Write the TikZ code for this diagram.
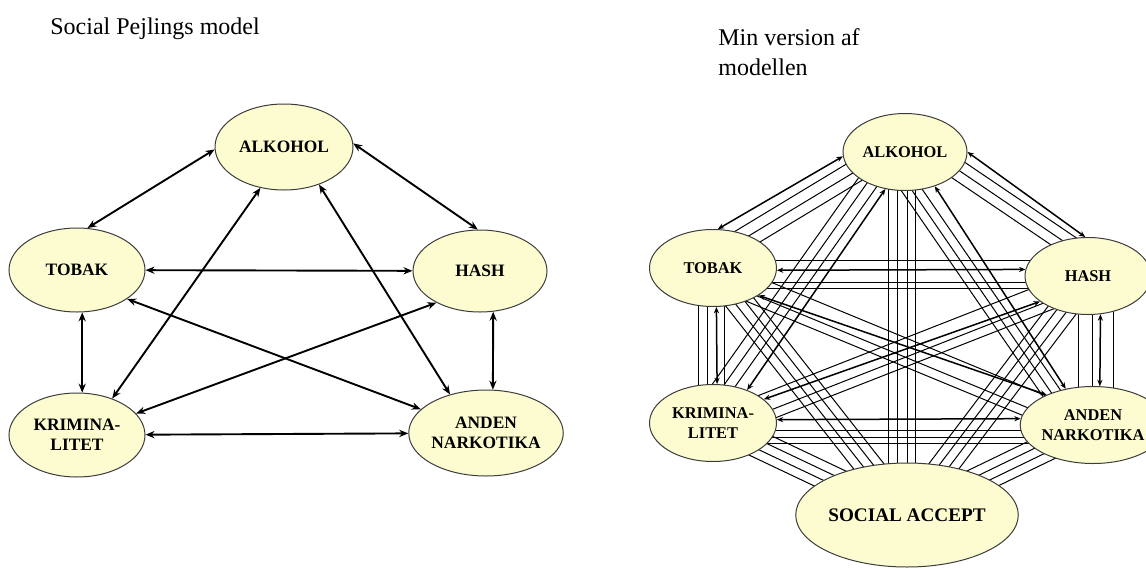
\documentclass[tikz,border=0pt]{standalone}
\usepackage{fontspec}
\setmainfont{Liberation Serif}
\usetikzlibrary{shapes.geometric,arrows.meta,calc}
\pgfdeclarelayer{bg}
\pgfsetlayers{bg,main}
\definecolor{nodefill}{RGB}{252,252,208}
\definecolor{nodeedge}{RGB}{60,60,60}
\tikzset{
  bub/.style={ellipse, draw=nodeedge, line width=0.5pt, fill=nodefill, inner sep=0pt, align=center},
  lfont/.style={font=\bfseries\fontsize{8.7}{10}\selectfont},
  rfont/.style={font=\bfseries\fontsize{8.2}{10}\selectfont},
  larr/.style={line width=0.95pt, {Stealth[length=4.5pt,width=3.6pt]}-{Stealth[length=4.5pt,width=3.6pt]}},
  rarr/.style={line width=0.75pt, {Stealth[length=3.2pt,width=2.6pt]}-{Stealth[length=3.2pt,width=2.6pt]}},
  pline/.style={line width=0.5pt},
  titletext/.style={anchor=base west, inner sep=0pt, font=\fontsize{12}{15}\selectfont}
}
\begin{document}
\begin{tikzpicture}[x=0.5pt,y=-0.5pt]
\useasboundingbox (0,0) rectangle (1146,568);

% titles
\node[titletext] (t1) at (50,34) {Social Pejlings model};
\node[titletext] (t2) at (718,45) {Min version af};
\node[titletext] (t3) at (718,75) {modellen};

% ---------- left diagram ----------
\node[bub, lfont, minimum width=69pt, minimum height=43pt] (LA) at (284,147) {ALKOHOL};
\node[bub, lfont, minimum width=68pt, minimum height=42pt] (LT) at (77,270) {TOBAK};
\node[bub, lfont, minimum width=67pt, minimum height=41pt] (LH) at (480,271) {HASH};
\node[bub, lfont, minimum width=68pt, minimum height=42pt] (LK) at (77,435) {KRIMINA-\\LITET};
\node[bub, lfont, minimum width=66pt, minimum height=43pt] (LN) at (486,433) {ANDEN\\NARKOTIKA};

\draw[larr] (LA.182) -- (LT.76);
\draw[larr] (LA.3) -- (LH.93);
\draw[larr] (LT) -- (LH);
\draw[larr] (LT.-83) -- (LK.83);
\draw[larr] (LH.-72) -- (LN.81);
\draw[larr] (LK) -- (LN);
\draw[larr] (LA.240) -- (LK.46);
\draw[larr] (LA.-47) -- (LN.133);
\draw[larr] (LT.-30) -- (LN.160);
\draw[larr] (LH.216) -- (LK.20);

% ---------- right diagram ----------
\node[bub, rfont, minimum width=62pt, minimum height=38.5pt] (RA) at (905,152) {ALKOHOL};
\node[bub, rfont, minimum width=63.5pt, minimum height=38.5pt] (RT) at (713,268) {TOBAK};
\node[bub, rfont, minimum width=63pt, minimum height=38.5pt] (RH) at (1088,276) {HASH};
\node[bub, rfont, minimum width=63.5pt, minimum height=38.5pt] (RK) at (713,423) {KRIMINA-\\LITET};
\node[bub, rfont, minimum width=63pt, minimum height=38.5pt] (RN) at (1093,425) {ANDEN\\NARKOTIKA};
\node[bub, font=\bfseries\fontsize{9.6}{11}\selectfont, minimum width=98pt, minimum height=52pt] (RS) at (907,515) {SOCIAL ACCEPT};

\begin{pgfonlayer}{bg}
  % diagonal bundles (plain lines, hidden under the node fills at their ends)
  \foreach \o in {-10pt,-4.5pt,1pt}
    \draw[pline] ($(RA)!\o!90:(RT)$) -- ($(RT)!\o!-90:(RA)$);
  \foreach \o in {12.5pt,7.5pt,2.5pt}
    \draw[pline] ($(RA)!\o!90:(RH)$) -- ($(RH)!\o!-90:(RA)$);
  \foreach \o in {-1.5pt,-6.5pt,-11.5pt}
    \draw[pline] ($(RA)!\o!90:(RK)$) -- ($(RK)!\o!-90:(RA)$);
  \foreach \o in {-3.5pt,-8pt,-12.5pt}
    \draw[pline] ($(RA)!\o!90:(RN)$) -- ($(RN)!\o!-90:(RA)$);
  \foreach \o in {4.5pt,-4.5pt,-9pt}
    \draw[pline] ($(RT)!\o!90:(RN)$) -- ($(RN)!\o!-90:(RT)$);
  \foreach \o in {-4.5pt,4.5pt,9pt}
    \draw[pline] ($(RH)!\o!90:(RK)$) -- ($(RK)!\o!-90:(RH)$);
  % horizontal and vertical bundles
  \foreach \o in {4pt,-7pt,-10pt}
    \draw[pline] ($(RT)+(0,\o)$) -- ($(RT -| RH)+(0,\o)$);
  \foreach \o in {-3.5pt,-7pt,-10pt}
    \draw[pline] ($(RK)+(0,\o)$) -- ($(RK -| RN)+(0,\o)$);
  \foreach \o in {-7.5pt,-3pt,5.5pt}
    \draw[pline] ($(RT)+(\o,0)$) -- ($(RT |- RK)+(\o,0)$);
  \foreach \o in {-5pt,2pt,12.5pt}
    \draw[pline] ($(RH)+(\o,0)$) -- ($(RH |- RN)+(\o,0)$);
  % social accept bundles
  \foreach \o in {-8.5pt,-4pt,1pt,5pt}
    \draw[pline] ($(RA)+(\o,0)$) -- ($(RA |- RS)+(\o,0)$);
  \foreach \o in {-6.75pt,-2.25pt,2.25pt,6.75pt}{
    \draw[pline] ($(RT)!\o!90:(RS)$) -- ($(RS)!\o!-90:(RT)$);
    \draw[pline] ($(RH)!\o!90:(RS)$) -- ($(RS)!\o!-90:(RH)$);
    \draw[pline] ($(RK)!\o!90:(RS)$) -- ($(RS)!\o!-90:(RK)$);
    \draw[pline] ($(RN)!\o!90:(RS)$) -- ($(RS)!\o!-90:(RN)$);
  }
  % arrows
  \draw[rarr] (RA.184) -- (RT.83);
  \draw[rarr] (RA.0) -- (RH.94);
  \draw[rarr] (RT.-2) -- (RH.174);
  \draw[rarr] (RT.-85) -- (RK.84);
  \draw[rarr] (RH.-72) -- (RN.80);
  \draw[rarr] (RK.3) -- (RN.175);
  \draw[rarr] (RA.-118) -- (RK.44);
  \draw[rarr] (RA.-49) -- (RN.127);
  \draw[rarr] (RT.-31) -- (RN.147);
  \draw[rarr] (RH.208) -- (RK.25);
\end{pgfonlayer}
\end{tikzpicture}
\end{document}
